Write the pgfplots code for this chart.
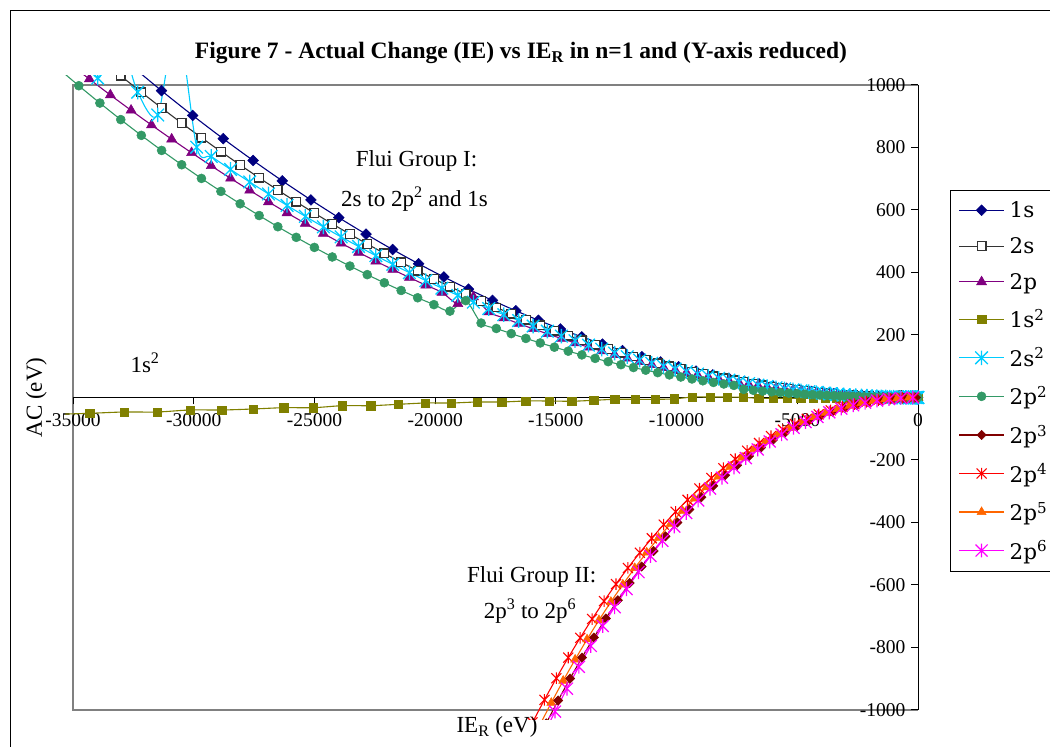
\documentclass[border=0pt]{standalone}
\usepackage{fontspec}
\setmainfont{Liberation Serif}
\newfontfamily\legendfamily{DejaVu Serif}
\usepackage{pgfplots}
\pgfplotsset{compat=1.18}

\definecolor{cOneS}{HTML}{000080}
\definecolor{cTwoS}{HTML}{333333}
\definecolor{cTwoP}{HTML}{800080}
\definecolor{cOneSS}{HTML}{808000}
\definecolor{cTwoSS}{HTML}{00CCFF}
\definecolor{cTwoPP}{HTML}{339966}
\definecolor{cTwoPThree}{HTML}{800000}
\definecolor{cTwoPFour}{HTML}{FF0000}
\definecolor{cTwoPFive}{HTML}{FF6600}
\definecolor{cTwoPSix}{HTML}{FF00FF}
\definecolor{frameGray}{HTML}{808080}

\newcommand{\titlefont}{\fontsize{23.5}{28}\selectfont\bfseries}
\newcommand{\tickfont}{\fontsize{19.5}{22}\selectfont}
\newcommand{\annfont}{\fontsize{23}{27}\selectfont}
\newcommand{\legendfont}{\legendfamily\fontsize{21.5}{24}\selectfont}

% star marker: a cross with a vertical bar
\pgfdeclareplotmark{xstar}{%
  \pgfpathmoveto{\pgfqpoint{-\pgfplotmarksize}{-\pgfplotmarksize}}%
  \pgfpathlineto{\pgfqpoint{\pgfplotmarksize}{\pgfplotmarksize}}%
  \pgfpathmoveto{\pgfqpoint{-\pgfplotmarksize}{\pgfplotmarksize}}%
  \pgfpathlineto{\pgfqpoint{\pgfplotmarksize}{-\pgfplotmarksize}}%
  \pgfpathmoveto{\pgfqpoint{0pt}{-1.15\pgfplotmarksize}}%
  \pgfpathlineto{\pgfqpoint{0pt}{1.15\pgfplotmarksize}}%
  \pgfusepathqstroke}

\pgfplotsset{
  sOneS/.style={color=cOneS, line width=1.1pt, smooth, mark=square*, mark size=3.8pt,
    mark options={rotate=45, fill=cOneS, solid, line width=0.5pt}},
  sTwoS/.style={color=cTwoS, line width=1.1pt, smooth, mark=square*, mark size=4.3pt,
    mark options={fill=white, draw=cTwoS, solid, line width=1.3pt}},
  sTwoP/.style={color=cTwoP, line width=1.1pt, smooth, mark=triangle*, mark size=5.8pt,
    mark options={fill=cTwoP, solid, line width=0.5pt}},
  sOneSS/.style={color=cOneSS, line width=1.1pt, smooth, mark=square*, mark size=4.2pt,
    mark options={fill=cOneSS, solid, line width=0.5pt}},
  sTwoSS/.style={color=cTwoSS, line width=1.1pt, smooth, mark=xstar, mark size=6.3pt,
    mark options={solid, line width=1.3pt}},
  sTwoPP/.style={color=cTwoPP, line width=1.1pt, smooth, mark=*, mark size=4.5pt,
    mark options={fill=cTwoPP, solid, line width=0.5pt}},
  sTwoPThree/.style={color=cTwoPThree, line width=1.1pt, smooth, mark=square*, mark size=3.3pt,
    mark options={rotate=45, fill=cTwoPThree, solid, line width=0.5pt}},
  sTwoPFour/.style={color=cTwoPFour, line width=1.1pt, smooth, mark=xstar, mark size=5pt,
    mark options={solid, line width=1.1pt}},
  sTwoPFive/.style={color=cTwoPFive, line width=1.1pt, smooth, mark=triangle*, mark size=5.2pt,
    mark options={fill=cTwoPFive, solid, line width=0.5pt}},
  sTwoPSix/.style={color=cTwoPSix, line width=1.1pt, smooth, mark=xstar, mark size=6pt,
    mark options={solid, line width=1.2pt}},
}

\begin{document}
\begin{tikzpicture}[x=1pt,y=1pt]
\useasboundingbox (0,0) rectangle (1050,747);
\fill[white] (0,0) rectangle (1050,747);
% chart area border
\draw[line width=1pt] (10,-30) rectangle (1080,736);
% title
\node[font=\titlefont, anchor=base, inner sep=0pt] at (521,688.7)
  {Figure 7 - Actual Change (IE) vs IE\textsubscript{R} in n=1 and (Y-axis reduced)};
% plot area border
\draw[frameGray, line width=1.5pt] (918,662) -- (73,662) -- (73,37) -- (918,37);

% axes, ticks and legend
\begin{axis}[
  at={(73pt,37pt)}, anchor=south west, scale only axis,
  width=845pt, height=625pt,
  xmin=-35000, xmax=0, ymin=-1000, ymax=1000,
  axis lines=middle,
  axis line style={-, black, line width=1pt},
  every inner x axis line/.append style={-},
  every inner y axis line/.append style={-},
  scaled x ticks=false, scaled y ticks=false,
  xtick={-35000,-30000,-25000,-20000,-15000,-10000,-5000,0},
  xticklabels={-35000,-30000,-25000,-20000,-15000,-10000,-5000,0},
  ytick={-1000,-800,-600,-400,-200,0,200,400,600,800,1000},
  yticklabels={-1000,-800,-600,-400,-200,0,200,400,600,800,1000},
  tick align=outside, major tick length=7pt,
  tick style={black, line width=1pt},
  hide obscured x ticks=false, hide obscured y ticks=false,
  ticklabel style={font=\tickfont},
  xticklabel style={yshift=-6pt},
  yticklabel style={xshift=-2pt},
  legend style={at={(axis description cs:1.0379,0.832)}, anchor=north west,
    draw=black, line width=1pt, fill=white, font=\legendfont,
    inner xsep=8pt, inner ysep=9pt, row sep=14.4pt, column sep=3pt},
  legend cell align=left,
  legend image code/.code={\draw[mark repeat=2,mark phase=2,#1]
    plot coordinates {(0pt,0pt) (22.5pt,0pt) (45pt,0pt)};},
]
\addlegendimage{sOneS}\addlegendentry{\makebox[62pt][l]{1s}}
\addlegendimage{sTwoS}\addlegendentry{\makebox[62pt][l]{2s}}
\addlegendimage{sTwoP}\addlegendentry{\makebox[62pt][l]{2p}}
\addlegendimage{sOneSS}\addlegendentry{\makebox[62pt][l]{1s\textsuperscript{2}}}
\addlegendimage{sTwoSS}\addlegendentry{\makebox[62pt][l]{2s\textsuperscript{2}}}
\addlegendimage{sTwoPP}\addlegendentry{\makebox[62pt][l]{2p\textsuperscript{2}}}
\addlegendimage{sTwoPThree}\addlegendentry{\makebox[62pt][l]{2p\textsuperscript{3}}}
\addlegendimage{sTwoPFour}\addlegendentry{\makebox[62pt][l]{2p\textsuperscript{4}}}
\addlegendimage{sTwoPFive}\addlegendentry{\makebox[62pt][l]{2p\textsuperscript{5}}}
\addlegendimage{sTwoPSix}\addlegendentry{\makebox[62pt][l]{2p\textsuperscript{6}}}
\end{axis}

% the series, clipped a little outside the plot area
\begin{scope}
\clip (65,27) rectangle (935,671);
\begin{axis}[
  at={(73pt,37pt)}, anchor=south west, scale only axis,
  width=845pt, height=625pt,
  xmin=-35000, xmax=0, ymin=-1000, ymax=1000,
  hide axis, clip=false,
]
% 1s
\addplot[sOneS] coordinates {
(-13.6,0) (-54.4,0.003) (-122.4,0.015) (-217.6,0.047) (-340,0.116) (-489.6,0.24)
(-666.4,0.44) (-870.4,0.76) (-1101.6,1.21) (-1360,1.85) (-1645.6,2.71) (-1958.4,3.84)
(-2298.4,5.28) (-2665.6,7.11) (-3060,9.36) (-3481.6,12.12) (-3930.4,15.45) (-4406.4,19.42)
(-4909.6,24.10) (-5440,29.59) (-5997.6,35.97) (-6582.4,43.33) (-7194.4,51.76) (-7833.6,61.37)
(-8500,72.25) (-9193.6,84.52) (-9914.4,98.30) (-10662.4,113.69) (-11437.6,130.82) (-12240,149.82)
(-13069.6,170.81) (-13926.4,193.95) (-14810.4,219.35) (-15721.6,247.17) (-16660,277.56)
(-17625.6,310.66) (-18618.4,346.64) (-19638.4,385.67) (-20685.6,427.89) (-21760,473.50)
(-22861.6,522.65) (-23990.4,575.54) (-25146.4,632.34) (-26329.6,693.25) (-27540,758.45)
(-28777.6,828.15) (-30042.4,902.55) (-31334.4,981.84) (-32653.6,1066.26)
};
% 2s
\addplot[sTwoS] coordinates {
(-5.57,0) (-22.28,0) (-50.13,0) (-89.11,0.01) (-139.24,0.02) (-200.51,0.04) (-272.91,0.07)
(-356.45,0.12) (-451.14,0.19) (-556.96,0.29) (-673.92,0.43) (-802.02,0.61) (-941.26,0.84)
(-1091.64,1.13) (-1253.16,1.48) (-1425.82,1.92) (-1609.61,2.45) (-1804.55,3.07) (-2010.63,3.82)
(-2227.84,4.69) (-2456.19,5.70) (-2695.69,6.86) (-2946.32,8.19) (-3208.09,9.72) (-3481.0,11.44)
(-3765.05,13.38) (-4060.24,15.56) (-4366.57,18.0) (-4684.03,20.71) (-5012.64,23.72)
(-5352.39,27.04) (-5703.27,30.71) (-6065.29,34.73) (-6438.46,39.13) (-6822.76,43.94)
(-7218.20,49.18) (-7624.78,54.88) (-8042.50,61.06) (-8471.36,67.75) (-8911.36,74.96)
(-9362.50,82.75) (-9824.77,91.12) (-10298.19,100.11) (-10782.75,109.76) (-11278.44,120.08)
(-11785.27,131.11) (-12303.25,142.89) (-12832.36,155.45) (-13372.61,168.81) (-13924.00,183.02)
(-14486.53,198.11) (-15060.20,214.11) (-15645.01,231.06) (-16240.95,249.0) (-16848.04,267.96)
(-17466.27,287.99) (-18095.63,309.11) (-18736.13,331.38) (-19387.78,354.84) (-20050.56,379.51)
(-20724.48,405.45) (-21409.54,432.70) (-22105.74,461.30) (-22813.08,491.29) (-23531.56,522.72)
(-24261.18,555.64) (-25001.93,590.09) (-25753.83,626.12) (-26516.87,663.77) (-27291.04,703.09)
(-28076.35,744.14) (-28872.81,786.95) (-29680.40,831.60) (-30499.13,878.11) (-31329.00,926.54)
(-32170.01,976.95) (-33022.16,1029.39) (-33885.45,1083.92)
};
% 2p
\addplot[sTwoP] coordinates {
(-1.39,0) (-12.53,0) (-34.81,0) (-68.23,0) (-112.78,0.01) (-168.48,0.02) (-235.32,0.05)
(-313.29,0.08) (-402.40,0.14) (-502.66,0.22) (-614.05,0.33) (-736.58,0.47) (-870.25,0.66)
(-1015.05,0.89) (-1171.00,1.19) (-1338.09,1.55) (-1516.32,1.99) (-1705.68,2.52) (-1906.19,3.14)
(-2117.84,3.88) (-2340.62,4.74) (-2574.54,5.73) (-2819.61,6.88) (-3075.81,8.18) (-3343.15,9.67)
(-3621.63,11.35) (-3911.25,13.23) (-4212.01,15.35) (-4523.91,17.70) (-4846.94,20.32)
(-5181.12,23.22) (-5526.44,26.42) (-5882.89,29.94) (-6250.48,33.79) (-6629.22,38.01)
(-7019.09,42.62) (-7420.10,47.63) (-7832.25,53.06) (-8255.53,58.95) (-8689.96,65.32)
(-9135.53,72.19) (-9592.24,79.59) (-10060.08,87.54) (-10539.07,96.08) (-11029.20,105.22)
(-11530.46,115.0) (-12042.86,125.45) (-12566.41,136.60) (-13101.09,148.47) (-13646.91,161.10)
(-14203.87,174.51) (-14771.97,188.75) (-15351.21,203.85) (-15941.59,219.83) (-16543.10,236.73)
(-17155.76,254.59) (-17779.56,273.44) (-18414.49,322) (-19060.56,300) (-19717.78,336.31)
(-20386.13,359.49) (-21065.62,383.86) (-21756.25,409.43) (-22458.01,436.27) (-23170.92,464.41)
(-23894.97,493.89) (-24630.16,524.74) (-25376.48,557.03) (-26133.95,590.79) (-26902.56,626.04)
(-27682.30,662.86) (-28473.18,701.27) (-29275.21,741.34) (-30088.37,783.09) (-30912.67,826.59)
(-31748.11,871.87) (-32594.69,918.99) (-33452.41,967.98) (-34321.27,1018.93) (-35201.26,1071.85)
};
% 1s^2
\addplot[sOneSS] coordinates {
(-18.1,0) (-65.6,-0.1) (-142.8,-0.2) (-249.6,-0.3) (-386.1,-0.4) (-552.3,-0.5) (-748.0,-0.6)
(-973.4,-0.8) (-1228.5,-1.0) (-1513.2,-1.2) (-1827.6,-1.4) (-2171.6,-1.6) (-2545.2,-1.8)
(-2948.5,-2.0) (-3381.4,-2.2) (-3844.0,-2.4) (-4336.2,-2.6) (-4858.1,-2.8) (-5409.6,-2.6)
(-5990.8,-2.6) (-6601.6,-2.6) (-7242.0,0.5) (-7912.1,1.5) (-8611.8,1.5) (-9341.2,1.5)
(-10100.3,-4.5) (-10888.9,-5.8) (-11707.2,-5.8) (-12555.2,-5.8) (-13432.8,-9) (-14340.1,-12)
(-15277.0,-11.2) (-16243.5,-11.2) (-17239.7,-14.4) (-18265.5,-14.4) (-19321.0,-17.6)
(-20406.1,-17.6) (-21520.9,-21.8) (-22665.3,-26.2) (-23839.4,-26.2) (-25043.1,-32.6)
(-26276.4,-32.6) (-27539.4,-36.8) (-28832.0,-40) (-30154.3,-40) (-31506.3,-46.4)
(-32887.8,-46.4) (-34299.0,-50.6) (-35739.9,-54)
};
% 2s^2
\addplot[sTwoSS] coordinates {
(-1.39,0) (-12.53,0) (-34.81,0) (-68.23,0) (-112.78,0.01) (-168.48,0.03) (-235.32,0.05)
(-313.29,0.09) (-402.40,0.15) (-502.66,0.23) (-614.05,0.34) (-736.58,0.49) (-870.25,0.68)
(-1015.05,0.93) (-1171.00,1.23) (-1338.09,1.61) (-1516.32,2.07) (-1705.68,2.62) (-1906.19,3.27)
(-2117.84,4.04) (-2340.62,4.93) (-2574.54,5.97) (-2819.61,7.16) (-3075.81,8.51) (-3343.15,10.06)
(-3621.63,11.80) (-3911.25,13.77) (-4212.01,15.97) (-4523.91,18.42) (-4846.94,21.14)
(-5181.12,24.16) (-5526.44,27.49) (-5882.89,31.15) (-6250.48,35.16) (-6629.22,39.55)
(-7019.09,44.34) (-7420.10,49.55) (-7832.25,55.21) (-8255.53,61.34) (-8689.96,67.96)
(-9135.53,75.11) (-9592.24,82.81) (-10060.08,91.08) (-10539.07,99.96) (-11029.20,109.48)
(-11530.46,119.66) (-12042.86,130.53) (-12566.41,142.12) (-13101.09,154.48) (-13646.91,167.61)
(-14203.87,181.58) (-14771.97,196.39) (-15351.21,212.09) (-15941.59,228.72) (-16543.10,246.31)
(-17155.76,264.89) (-17779.56,284.50) (-18414.49,305.19) (-19060.56,326.98) (-19717.78,349.91)
(-20386.13,374.04) (-21065.62,399.39) (-21756.25,426.0) (-22458.01,453.92) (-23170.92,483.20)
(-23894.97,513.87) (-24630.16,545.98) (-25376.48,579.57) (-26133.95,614.69) (-26902.56,651.38)
(-27682.30,689.68) (-28473.18,729.65) (-29275.21,771.34) (-29876,801) (-30692,1200)
(-31492,904) (-32320,977) (-33149,1160) (-33977,1022) (-35201,1180)
};
% 2p^2
\addplot[sTwoPP] coordinates {
(-5.57,0) (-22.28,0) (-50.13,0) (-89.11,0) (-139.24,0.01) (-200.51,0.02) (-272.91,0.04)
(-356.45,0.06) (-451.14,0.10) (-556.96,0.14) (-673.92,0.21) (-802.02,0.30) (-941.26,0.42)
(-1091.64,0.56) (-1253.16,0.74) (-1425.82,0.96) (-1609.61,1.2) (-1804.55,1.5) (-2010.63,1.9)
(-2227.84,2.4) (-2456.19,2.9) (-2695.69,3.5) (-2946.32,4.2) (-3208.09,4.9) (-3481.0,5.8)
(-3765.05,6.8) (-4060.24,8.0) (-4366.57,9.2) (-4684.03,10.7) (-5012.64,12.3) (-5352.39,14.0)
(-5703.27,16.0) (-6065.29,18.1) (-6438.46,20.5) (-6822.76,23.1) (-7218.20,25.9)
(-7624.78,38.72) (-8042.50,43.24) (-8471.36,48.15) (-8911.36,53.49) (-9362.50,59.28)
(-9824.77,65.54) (-10298.19,72.30) (-10782.75,79.60) (-11278.44,87.45) (-11785.27,95.90)
(-12303.25,104.99) (-12832.36,114.72) (-13372.61,125.14) (-13924.00,136.31) (-14486.53,148.24)
(-15060.20,160.99) (-15645.01,174.57) (-16240.95,189.04) (-16848.04,204.46) (-17466.27,220.84)
(-18095.63,238.25) (-18736.13,310) (-19387.78,276.39) (-20050.56,297.18) (-20724.48,319.16)
(-21409.54,342.45) (-22105.74,367.13) (-22813.08,393.14) (-23531.56,420.67) (-24261.18,449.63)
(-25001.93,480.26) (-25753.83,512.50) (-26516.87,546.48) (-27291.04,582.29) (-28076.35,619.90)
(-28872.81,659.49) (-29680.40,701.04) (-30499.13,744.81) (-31329.00,790.60) (-32170.01,838.79)
(-33022.16,889.27) (-33885.45,942.23) (-34759.87,997.65) (-35645.44,1055.74) (-36542.15,1116.60)
};
% 2p^3
\addplot[sTwoPThree] coordinates {
(-86,-0.02) (-580,-1.14) (-1074,-3.94) (-1568,-8.50) (-2062,-14.84) (-2556,-23.03)
(-3050,-33.09) (-3544,-45.11) (-4038,-59.10) (-4532,-75.14) (-5026,-93.25) (-5520,-113.51)
(-6014,-135.95) (-6508,-160.63) (-7002,-187.58) (-7496,-216.88) (-7990,-248.55) (-8484,-282.65)
(-8978,-319.23) (-9472,-358.35) (-9966,-400.04) (-10460,-444.35) (-10954,-491.35)
(-11448,-541.07) (-11942,-593.54) (-12436,-648.86) (-12930,-707.04) (-13424,-768.16)
(-13918,-832.26) (-14412,-899.39) (-14906,-969.55) (-15400,-1042.85)
};
% 2p^4
\addplot[sTwoPFour] coordinates {
(-160,-0.07) (-654,-1.25) (-1148,-3.89) (-1642,-8.07) (-2136,-13.82) (-2630,-21.22)
(-3124,-30.30) (-3618,-41.13) (-4112,-53.76) (-4606,-68.25) (-5100,-84.65) (-5594,-103.02)
(-6088,-123.40) (-6582,-145.86) (-7076,-170.46) (-7570,-197.23) (-8064,-226.25) (-8558,-257.56)
(-9052,-291.22) (-9546,-327.29) (-10040,-365.81) (-10534,-406.86) (-11028,-450.46)
(-11522,-496.70) (-12016,-545.60) (-12510,-597.24) (-13004,-651.68) (-13498,-708.95)
(-13992,-769.13) (-14486,-832.25) (-14980,-898.38) (-15474,-967.59) (-15968,-1039.91)
};
% 2p^5
\addplot[sTwoPFive] coordinates {
(-370,-0.42) (-864,-2.33) (-1358,-5.82) (-1852,-10.96) (-2346,-17.80) (-2840,-26.39)
(-3334,-36.79) (-3828,-49.07) (-4322,-63.27) (-4816,-79.45) (-5310,-97.68) (-5804,-117.99)
(-6298,-140.47) (-6792,-165.14) (-7286,-192.08) (-7780,-221.34) (-8274,-252.98) (-8768,-287.06)
(-9262,-323.61) (-9756,-362.73) (-10250,-404.43) (-10744,-448.80) (-11238,-495.89)
(-11732,-545.75) (-12226,-598.43) (-12720,-654.02) (-13214,-712.53) (-13708,-774.05)
(-14202,-838.62) (-14696,-906.27) (-15190,-977.14) (-15684,-1051.20)
};
% 2p^6
\addplot[sTwoPSix] coordinates {
(-215,-0.15) (-709,-1.66) (-1203,-4.83) (-1697,-9.73) (-2191,-16.40) (-2685,-24.92)
(-3179,-35.33) (-3673,-47.71) (-4167,-62.09) (-4661,-78.54) (-5155,-97.12) (-5649,-117.90)
(-6143,-140.91) (-6637,-166.23) (-7131,-193.91) (-7625,-224.0) (-8119,-256.58) (-8613,-291.68)
(-9107,-329.38) (-9601,-369.73) (-10095,-412.80) (-10589,-458.63) (-11083,-507.26)
(-11577,-558.81) (-12071,-613.28) (-12565,-670.75) (-13059,-731.27) (-13553,-794.90)
(-14047,-861.72) (-14541,-931.77) (-15035,-1005.08) (-15529,-1081.77)
};
\end{axis}
\end{scope}

% axis titles and notes
\node[font=\annfont, anchor=base, rotate=90, inner sep=0pt] at (42,349.5) {AC (eV)};
\node[font=\annfont, anchor=base, inner sep=0pt] at (497,14.3) {IE\textsubscript{R} (eV)};
\node[font=\annfont, anchor=base, inner sep=0pt] at (416.5,580) {Flui Group I:};
\node[font=\annfont, anchor=base, inner sep=0pt] at (414.5,540.3) {2s to 2p\textsuperscript{2} and 1s};
\node[font=\annfont, anchor=base, inner sep=0pt] at (145,374) {1s\textsuperscript{2}};
\node[font=\annfont, anchor=base, inner sep=0pt] at (531.7,164.3) {Flui Group II:};
\node[font=\annfont, anchor=base, inner sep=0pt] at (530,128.7) {2p\textsuperscript{3} to 2p\textsuperscript{6}};
\end{tikzpicture}
\end{document}
